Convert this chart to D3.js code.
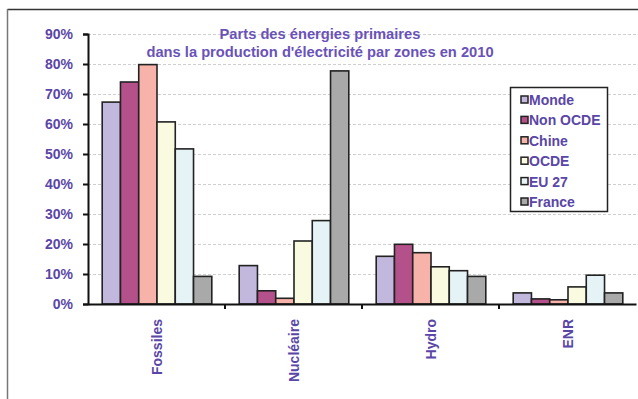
<!DOCTYPE html>
<html><head><meta charset="utf-8">
<script src="https://cdn.jsdelivr.net/npm/d3@7"></script>
<style>body{margin:0;background:#fff}svg{display:block}</style>
</head><body>
<script>
const categories = ["Fossiles","Nucléaire","Hydro","ENR"];
const seriesNames = ["Monde","Non OCDE","Chine","OCDE","EU 27","France"];
const monde   = [67.3, 12.8, 15.9, 3.7];
const nonOcde = [74.0, 4.4, 19.9, 1.7];
const chine   = [79.8, 1.9, 17.1, 1.4];
const ocde    = [60.7, 21.0, 12.4, 5.7];
const eu27    = [51.7, 27.8, 11.1, 9.6];
const france  = [9.2, 77.7, 9.2, 3.7];
const yTicks = [0,10,20,30,40,50,60,70,80,90];
const colors = ["#c2b8de","#b4508a","#f7b2aa","#fafae0","#e6f3f6","#a9a9a9"];
const seriesValues = [monde, nonOcde, chine, ocde, eu27, france];

const W=638,H=399;
const svg=d3.select("body").append("svg").attr("width",W).attr("height",H);
// frame
svg.append("line").attr("x1",7.5).attr("x2",W).attr("y1",9.5).attr("y2",9.5).attr("stroke","#333").attr("stroke-width",1.5);
svg.append("line").attr("x1",7.5).attr("x2",7.5).attr("y1",9).attr("y2",H).attr("stroke","#777").attr("stroke-width",1.5);

const left=88,right=636,top0=34,bottom=304;
const y=d3.scaleLinear().domain([0,90]).range([bottom,top0]);
const x0=d3.scaleBand().domain(categories).range([left,right]).paddingInner(0.2).paddingOuter(0.1);
const x1=d3.scaleBand().domain(seriesNames).range([0,x0.bandwidth()]);
const xb=d3.scaleBand().domain(categories).range([left,right]);
const txt="#5a46a6";
const ff="Liberation Sans, Arial, sans-serif";

// gridlines
svg.append("g").selectAll("line").data(yTicks.slice(1)).join("line")
 .attr("x1",left).attr("x2",W).attr("y1",d=>Math.round(y(d))+0.5).attr("y2",d=>Math.round(y(d))+0.5)
 .attr("stroke","#cfcfcf").attr("stroke-dasharray","3,2").attr("stroke-width",1);

// bars
const g=svg.append("g");
seriesValues.forEach((vals,si)=>{
  g.selectAll(null).data(vals).join("rect")
   .attr("x",(d,i)=>x0(categories[i])+x1(seriesNames[si])+0.5)
   .attr("y",d=>y(d)).attr("width",x1.bandwidth()).attr("height",d=>bottom-y(d))
   .attr("fill",colors[si]).attr("stroke","#222").attr("stroke-width",1.6);
});

// y axis
const yAxis=d3.axisLeft(y).tickValues(yTicks).tickFormat(d=>d+"%").tickSize(5);
const ya=svg.append("g").attr("transform",`translate(${left},0)`).call(yAxis);
ya.select(".domain").attr("stroke","#111").attr("stroke-width",2);
ya.selectAll(".tick line").attr("stroke","#111").attr("stroke-width",2);
ya.selectAll("text").attr("x",-15).attr("fill",txt).style("font-family",ff).style("font-size","14px").style("font-weight","bold");

// x axis
const xAxis=d3.axisBottom(xb).tickSize(0).tickFormat("");
const xa=svg.append("g").attr("transform",`translate(0,${bottom})`).call(xAxis);
xa.select(".domain").attr("stroke","#111").attr("stroke-width",2);
svg.append("g").selectAll("line").data(categories.slice(1)).join("line")
 .attr("x1",d=>xb(d)).attr("x2",d=>xb(d)).attr("y1",bottom).attr("y2",bottom+5)
 .attr("stroke","#111").attr("stroke-width",2);
svg.append("g").selectAll("text").data(categories).join("text")
 .attr("transform",d=>`translate(${xb(d)+xb.bandwidth()/2+5},319) rotate(-90)`)
 .attr("text-anchor","end").attr("fill",txt)
 .style("font-family",ff).style("font-size","14px").style("font-weight","bold")
 .text(d=>d);

// title
const title=svg.append("text").attr("text-anchor","middle").attr("fill","#6a52b8")
 .style("font-family",ff).style("font-size","14.7px").style("font-weight","bold");
title.append("tspan").attr("x",320).attr("y",39).text("Parts des énergies primaires");
title.append("tspan").attr("x",320).attr("y",57).text("dans la production d'électricité par zones en 2010");

// legend
const lg=svg.append("g");
lg.append("rect").attr("x",510.5).attr("y",87.5).attr("width",97).attr("height",124).attr("fill","#fff").attr("stroke","#222").attr("stroke-width",1.5);
const items=lg.selectAll("g").data(seriesNames).join("g").attr("transform",(d,i)=>`translate(521,${100+i*20.4})`);
items.append("rect").attr("x",0).attr("y",-4).attr("width",7).attr("height",7).attr("fill",(d,i)=>colors[i]).attr("stroke","#222").attr("stroke-width",1.5);
items.append("text").attr("x",8).attr("y",5).attr("fill",txt)
 .style("font-family",ff).style("font-size","14px").style("font-weight","bold").text(d=>d);
</script>
</body></html>
